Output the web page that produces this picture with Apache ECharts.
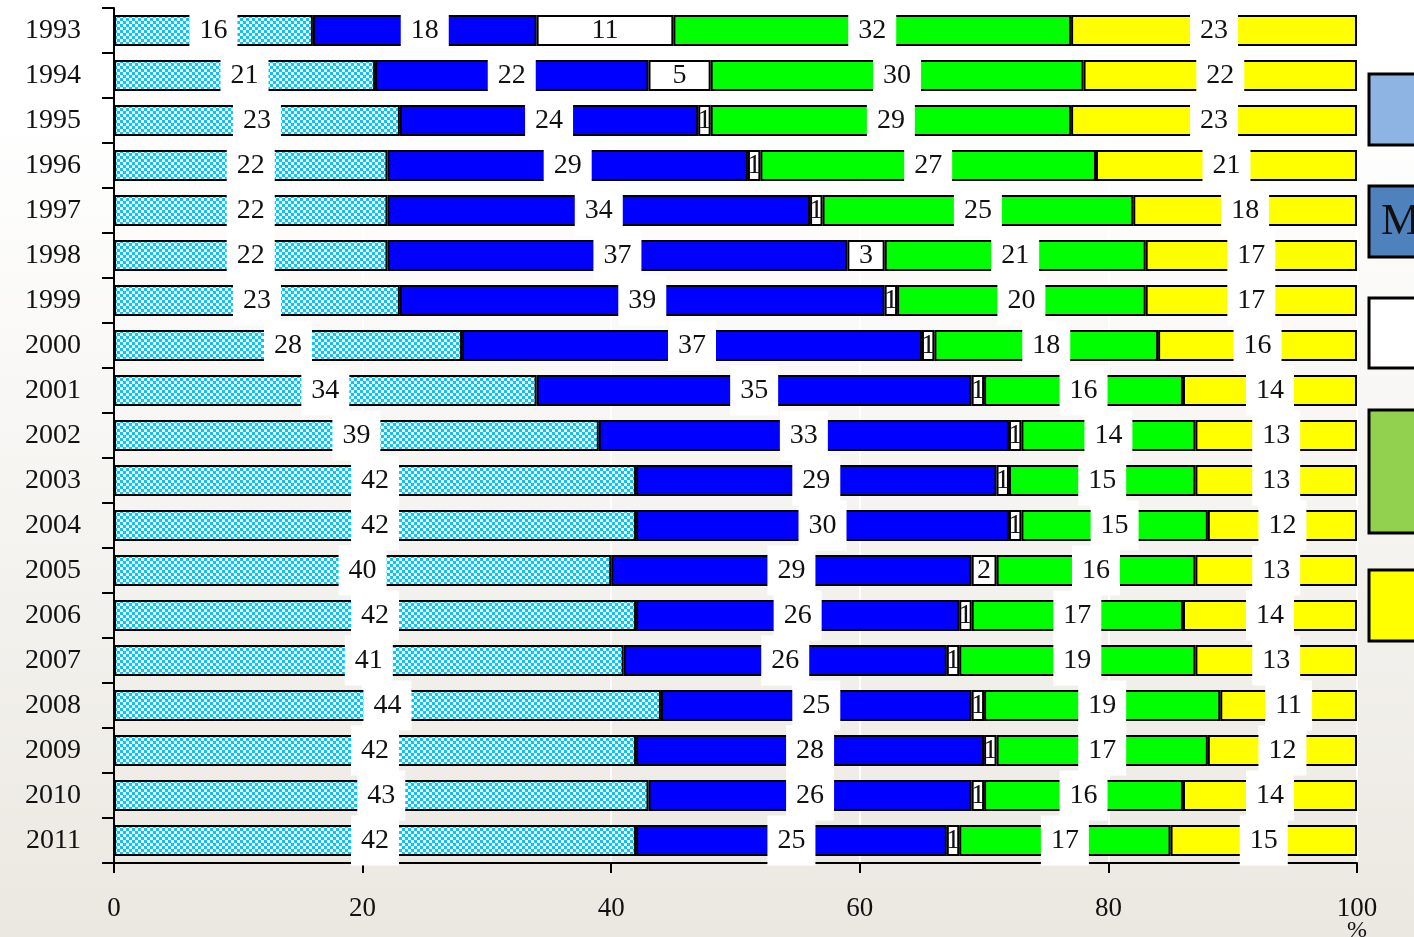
<!DOCTYPE html>
<html><head><meta charset="utf-8">
<script src="https://cdn.jsdelivr.net/npm/echarts@6/dist/echarts.min.js"></script>
<style>html,body{margin:0;padding:0;background:#fff;} #c{width:1414px;height:937px;}</style>
</head><body><div id="c"></div>
<script>
const years = ['1993','1994','1995','1996','1997','1998','1999','2000','2001','2002','2003','2004','2005','2006','2007','2008','2009','2010','2011'];
const seriesA = [16,21,23,22,22,22,23,28,34,39,42,42,40,42,41,44,42,43,42];
const seriesB = [18,22,24,29,34,37,39,37,35,33,29,30,29,26,26,25,28,26,25];
const seriesC = [11,5,1,1,1,3,1,1,1,1,1,1,2,1,1,1,1,1,1];
const seriesD = [32,30,29,27,25,21,20,18,16,14,15,15,16,17,19,19,17,16,17];
const seriesE = [23,22,23,21,18,17,17,16,14,13,13,12,13,14,13,11,12,14,15];
const xTickValues = [0,20,40,60,80,100];

// checker pattern for first series
const pc = document.createElement('canvas');
pc.width = 6; pc.height = 6;
const g = pc.getContext('2d');
g.fillStyle = '#ffffff'; g.fillRect(0,0,6,6);
g.fillStyle = '#00c8ff'; g.fillRect(0,0,3,3); g.fillRect(3,3,3,3);

const FONT = 'Liberation Serif';
const baseLabel = {
  show: true, position: 'inside', fontFamily: FONT, fontSize: 28, color: '#111',
  backgroundColor: '#ffffff', padding: [12, 10, 10, 10], lineHeight: 28
};
function mk(name, data, color, lbl) {
  return {
    name, type: 'bar', stack: 'all', data, barWidth: 31,
    itemStyle: { color, borderColor: '#000', borderWidth: 2 },
    label: Object.assign({}, baseLabel, lbl || {})
  };
}

const chart = echarts.init(document.getElementById('c'), null, {renderer: 'canvas'});
chart.setOption({
  animation: false,
  backgroundColor: {type: 'linear', x: 0, y: 0, x2: 0, y2: 1,
    colorStops: [{offset: 0, color: '#ffffff'}, {offset: 0.12, color: '#ffffff'}, {offset: 1, color: '#ebe8e1'}]},
  grid: {left: 114, right: 57, top: 8, bottom: 74, containLabel: false, outerBoundsMode: 'none'},
  xAxis: {
    type: 'value', min: 0, max: 100, interval: 20,
    axisLine: {show: true, lineStyle: {color: '#000', width: 2}},
    axisTick: {show: true, length: 10, lineStyle: {color: '#000', width: 2}},
    axisLabel: {fontFamily: FONT, fontSize: 27, color: '#111', margin: 32,
      formatter: v => xTickValues.includes(v) ? String(v) : ''},
    splitLine: {show: true, lineStyle: {color: '#ffffff', width: 2}}
  },
  yAxis: {
    type: 'category', data: years, inverse: true,
    axisLine: {show: true, lineStyle: {color: '#000', width: 2}},
    axisTick: {show: true, length: 12, alignWithLabel: false, lineStyle: {color: '#000', width: 2}},
    axisLabel: {fontFamily: FONT, fontSize: 28, color: '#111', margin: 33}
  },
  series: [
    mk('A', seriesA, {image: pc, repeat: 'repeat'}),
    mk('B', seriesB, '#0000ff'),
    mk('C', seriesC, '#ffffff', {backgroundColor: 'transparent', padding: 0}),
    mk('D', seriesD, '#00ff00'),
    mk('E', seriesE, '#ffff00')
  ],
  graphic: [
    {type: 'text', x: 1357, y: 919, style: {text: '%', fontFamily: FONT, fontSize: 24, fill: '#111', align: 'center', verticalAlign: 'top'}},
    {type: 'rect', shape: {x: 1369, y: 74, width: 60, height: 71}, style: {fill: '#8db4e2', stroke: '#000', lineWidth: 3}},
    {type: 'rect', shape: {x: 1369, y: 186, width: 60, height: 71}, style: {fill: '#4f81bd', stroke: '#000', lineWidth: 3}},
    {type: 'text', x: 1381, y: 222, style: {text: 'M', fontFamily: FONT, fontSize: 44, fill: '#111', verticalAlign: 'middle'}},
    {type: 'rect', shape: {x: 1369, y: 298, width: 60, height: 70}, style: {fill: '#ffffff', stroke: '#000', lineWidth: 3}},
    {type: 'rect', shape: {x: 1369, y: 410, width: 60, height: 123}, style: {fill: '#92d050', stroke: '#000', lineWidth: 3}},
    {type: 'rect', shape: {x: 1369, y: 570, width: 60, height: 71}, style: {fill: '#ffff00', stroke: '#000', lineWidth: 3}}
  ]
});
</script></body></html>
